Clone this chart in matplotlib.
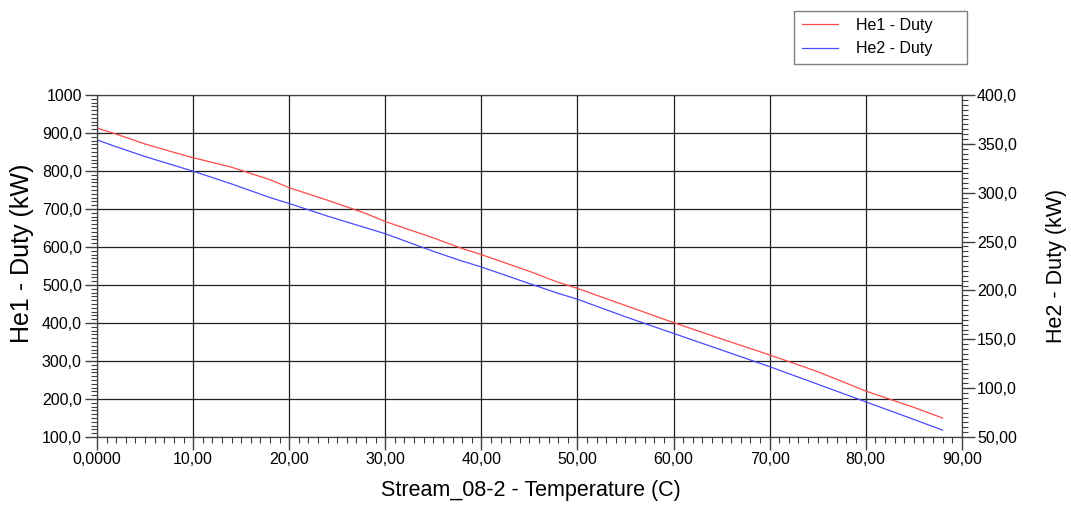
import numpy as np
import matplotlib.pyplot as plt
from matplotlib.ticker import MultipleLocator

plt.rcParams['font.family'] = ['Liberation Sans', 'DejaVu Sans']

# data
temp = [0, 2, 5, 8, 10, 14, 18, 20, 24, 28, 30, 35, 38, 40, 45, 48, 50, 55, 60, 65, 70, 75, 80, 85, 88]
he1_duty = [913, 897, 871, 849, 835, 810, 777, 756, 723, 688, 667, 624, 596, 580, 536, 507, 491, 446, 401, 358, 316, 272, 221, 178, 150]
he2_duty = [354, 347, 337, 328, 322, 309, 295, 289, 276, 264, 258, 240, 230, 224, 207, 197, 191, 173, 156, 139, 122, 104, 86, 68, 57]

x_ticks = [0, 10, 20, 30, 40, 50, 60, 70, 80, 90]
x_labels = ["0,0000", "10,00", "20,00", "30,00", "40,00", "50,00", "60,00", "70,00", "80,00", "90,00"]
y1_ticks = [100, 200, 300, 400, 500, 600, 700, 800, 900, 1000]
y1_labels = ["100,0", "200,0", "300,0", "400,0", "500,0", "600,0", "700,0", "800,0", "900,0", "1000"]
y2_ticks = [50, 100, 150, 200, 250, 300, 350, 400]
y2_labels = ["50,00", "100,0", "150,0", "200,0", "250,0", "300,0", "350,0", "400,0"]

fig = plt.figure(figsize=(10.71, 5.08), dpi=100)
ax = fig.add_axes([0.0906, 0.1398, 0.8074, 0.6732])
ax2 = ax.twinx()

l1, = ax.plot(temp, he1_duty, color="#ff4a4a", lw=0.9, label="He1 - Duty")
l2, = ax2.plot(temp, he2_duty, color="#4a4aff", lw=0.9, label="He2 - Duty")

ax.set_xlim(0, 90)
ax.set_ylim(100, 1000)
ax2.set_ylim(50, 400)

ax.set_xticks(x_ticks)
ax.set_xticklabels(x_labels)
ax.set_yticks(y1_ticks)
ax.set_yticklabels(y1_labels)
ax2.set_yticks(y2_ticks)
ax2.set_yticklabels(y2_labels)

ax.xaxis.set_minor_locator(MultipleLocator(1))
ax.yaxis.set_minor_locator(MultipleLocator(10))
ax2.yaxis.set_minor_locator(MultipleLocator(5))

ax.grid(True, which="major", color="#202020", lw=0.9)

for a in (ax, ax2):
    for s in a.spines.values():
        s.set_color("#404040")
    a.tick_params(which="major", length=9, width=1, color="#404040", labelsize=11.5, pad=2)
    a.tick_params(which="minor", length=4, width=0.8, color="#404040")

# axis titles placed as in the reference
fig.text(0.496, 0.034, "Stream_08-2 - Temperature (C)", fontsize=15.5, ha="center", va="center")
fig.text(0.0205, 0.502, "He1 - Duty (kW)", fontsize=18, rotation=90, ha="center", va="center")
fig.text(0.986, 0.477, "He2 - Duty (kW)", fontsize=15.5, rotation=90, ha="center", va="center")

leg = fig.legend(handles=[l1, l2], labels=["He1 - Duty      ", "He2 - Duty      "],
                 loc="upper right", bbox_to_anchor=(0.91, 0.995),
                 fontsize=11.5, frameon=True, fancybox=False, handlelength=2.3,
                 handletextpad=1.1, borderpad=0.45, labelspacing=0.55)
leg.get_frame().set_edgecolor("#606060")
leg.get_frame().set_linewidth(1)

fig.savefig("out.png", dpi=100)
